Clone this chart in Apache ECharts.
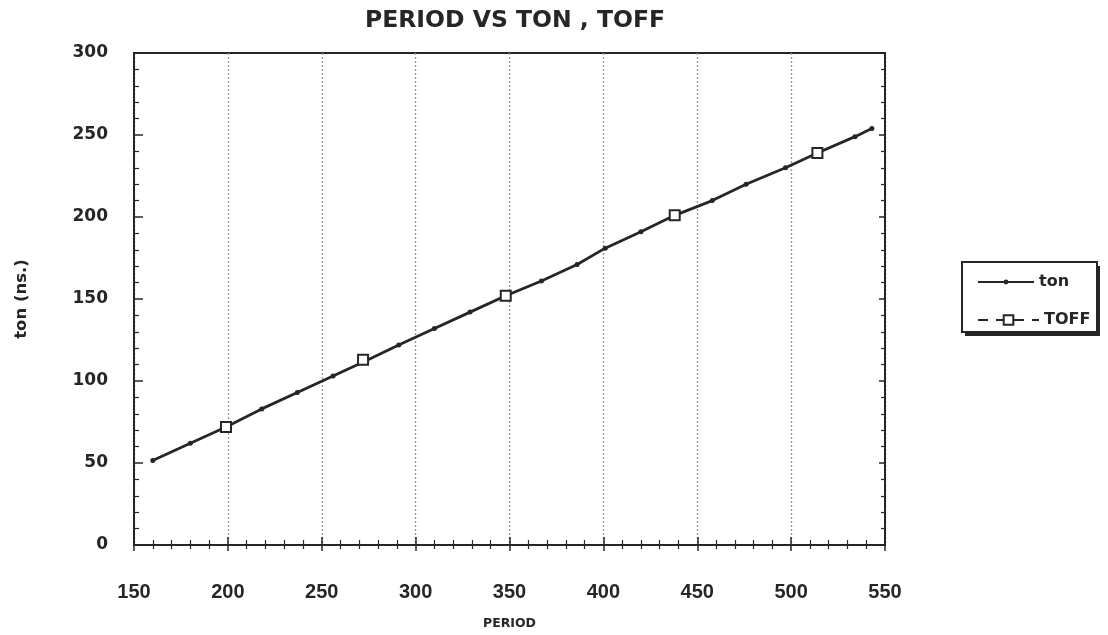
<!DOCTYPE html>
<html>
<head>
<meta charset="utf-8">
<script src="https://cdn.jsdelivr.net/npm/echarts@6/dist/echarts.min.js"></script>
<style>
html,body{margin:0;padding:0;background:#fff;}
#chart{width:1108px;height:635px;}
</style>
</head>
<body>
<div id="chart"></div>
<script>
// ---- data ----
var tonPeriod = [160, 180, 199, 218, 237, 256, 273, 291, 310, 329, 348, 367, 386, 401, 420, 438, 458, 476, 497, 514, 534, 543];
var tonValues = [51.5, 62, 72, 83, 93, 103, 112, 122, 132, 142, 152, 161, 171, 181, 191, 201, 210, 220, 230, 239, 249, 254];
var toffPeriod = [199, 272, 348, 438, 514];
var toffValues = [72, 113, 152, 201, 239];
var xTicks = [150, 200, 250, 300, 350, 400, 450, 500, 550];
var yTicks = [0, 50, 100, 150, 200, 250, 300];
var seriesNames = ['ton', 'TOFF'];

var ink = '#262626';
function pairs(xs, ys){ return xs.map(function(x,i){ return [x, ys[i]]; }); }

var chart = echarts.init(document.getElementById('chart'), null, {renderer:'canvas'});
var xMin = xTicks[0], xMax = xTicks[xTicks.length-1];
var yMin = yTicks[0], yMax = yTicks[yTicks.length-1];

var legendText = {fontFamily: 'DejaVu Sans', fontWeight: 'bold', fontSize: 16, color: ink};

var option = {
  backgroundColor: '#fff',
  animation: false,
  title: {
    text: 'PERIOD VS TON , TOFF',
    left: 510, top: 4, textAlign: 'center',
    textStyle: {fontFamily: 'DejaVu Sans', fontWeight: 'bold', fontSize: 23.5, color: ink}
  },
  graphic: [
    {type: 'rect', z: 1, shape: {x: 965, y: 266, width: 135, height: 70}, style: {fill: ink}},
    {type: 'rect', z: 2, shape: {x: 962, y: 262, width: 135, height: 70}, style: {fill: '#fff', stroke: ink, lineWidth: 2}}
  ],
  grid: {left: 134, right: 223, top: 53, bottom: 86, show: true, borderColor: ink, borderWidth: 2},
  legend: [{
    left: 977, top: 274, padding: 0,
    itemWidth: 56, itemHeight: 6,
    textStyle: legendText,
    data: [seriesNames[0]], z: 10
  }, {
    left: 977, top: 312, padding: 0,
    itemWidth: 61, itemHeight: 12,
    textStyle: legendText,
    data: [{name: seriesNames[1], lineStyle: {opacity: 1, type: [10, 8], width: 2}}], z: 10
  }],
  xAxis: [{
    type: 'value', min: xMin, max: xMax, interval: 50,
    name: 'PERIOD', nameLocation: 'middle', nameGap: 72,
    nameTextStyle: {fontFamily: 'DejaVu Sans', fontWeight: 'bold', fontSize: 12.5, color: ink},
    axisLine: {show: true, lineStyle: {color: ink, width: 2}},
    axisTick: {show: true, inside: true, length: 8, lineStyle: {color: ink, width: 1.5}},
    minorTick: {show: true, splitNumber: 5, length: 5, lineStyle: {color: ink, width: 1.2}},
    axisLabel: {margin: 37, fontFamily: 'Liberation Sans', fontWeight: 'bold', fontSize: 20, color: ink},
    splitLine: {show: true, lineStyle: {color: '#999', type: [2, 2], width: 1.4}}
  }, {
    type: 'value', position: 'top', min: xMin, max: xMax, interval: 50,
    axisLine: {show: true, lineStyle: {color: ink, width: 2}},
    axisTick: {show: true, inside: true, length: 6, lineStyle: {color: ink, width: 1.5}},
    minorTick: {show: true, splitNumber: 5, length: 4, lineStyle: {color: ink, width: 1.2}},
    axisLabel: {show: false}, splitLine: {show: false}
  }],
  yAxis: [{
    type: 'value', min: yMin, max: yMax, interval: 50,
    name: 'ton (ns.)', nameLocation: 'middle', nameGap: 104, nameRotate: 90,
    nameTextStyle: {fontFamily: 'DejaVu Sans', fontWeight: 'bold', fontSize: 16.5, color: ink},
    axisLine: {show: true, lineStyle: {color: ink, width: 2}},
    axisTick: {show: true, inside: true, length: 9, lineStyle: {color: ink, width: 1.5}},
    minorTick: {show: true, splitNumber: 5, length: 5, lineStyle: {color: ink, width: 1.2}},
    axisLabel: {margin: 26, fontFamily: 'DejaVu Sans', fontWeight: 'bold', fontSize: 17, color: ink},
    splitLine: {show: false}
  }, {
    type: 'value', position: 'right', min: yMin, max: yMax, interval: 50,
    axisLine: {show: true, lineStyle: {color: ink, width: 2}},
    axisTick: {show: true, inside: true, length: 6, lineStyle: {color: ink, width: 1.5}},
    minorTick: {show: true, splitNumber: 5, length: 4, lineStyle: {color: ink, width: 1.2}},
    axisLabel: {show: false}, splitLine: {show: false}
  }],
  series: [{
    name: seriesNames[0], type: 'line', xAxisIndex: 0, yAxisIndex: 0,
    data: pairs(tonPeriod, tonValues),
    symbol: 'circle', symbolSize: 5, showSymbol: true,
    itemStyle: {color: ink},
    lineStyle: {color: ink, width: 2.8},
    z: 2
  }, {
    name: seriesNames[1], type: 'line', xAxisIndex: 0, yAxisIndex: 0,
    data: pairs(toffPeriod, toffValues),
    symbol: 'rect', symbolSize: 10, showSymbol: true,
    itemStyle: {color: '#fff', borderColor: ink, borderWidth: 2},
    lineStyle: {color: ink, width: 2, type: [10, 8], opacity: 0},
    z: 3
  }]
};
chart.setOption(option);
</script>
</body>
</html>
